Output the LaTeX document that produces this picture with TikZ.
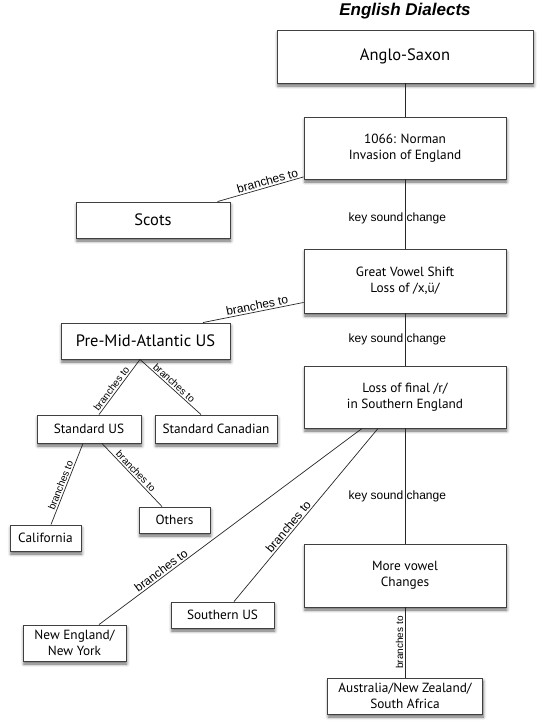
\documentclass[tikz,border=0pt]{standalone}
\usepackage{fontspec}
\setmainfont{PT Sans}
\newfontfamily\lblfont{Liberation Sans}
\usetikzlibrary{shadows.blur}
\def\fsbig{\fontsize{16.5}{19}\selectfont}
\def\fsmid{\fontsize{13.3}{16}\selectfont}
\def\fstitle{\lblfont\bfseries\itshape\fontsize{17}{20}\selectfont}

\tikzset{
	box/.style={draw=black!75, line width=0.9pt, fill=white, align=center, inner sep=2pt,
		blur shadow={shadow xshift=0.8pt, shadow yshift=-3pt, shadow blur radius=3pt, shadow opacity=60}},
	lbl/.style={font=\lblfont\fontsize{12}{14}\selectfont, inner sep=1.5pt},
	smalllbl/.style={font=\lblfont\fontsize{10}{12}\selectfont, inner sep=1.5pt},
	link/.style={draw=black!85, line width=0.7pt}
}

\begin{document}
\begin{tikzpicture}[x=1pt, y=-1pt]
	\useasboundingbox (0,0) rectangle (541,728);
	\node[anchor=base] (title) at (405,15) {\fstitle English Dialects};

	\node[box, minimum width=256pt, minimum height=53pt, font=\fsbig] (anglo)  at (405, 56.5)   {Anglo-Saxon};
	\node[box, minimum width=202pt, minimum height=62pt, font=\fsmid] (norman) at (405, 148)    {1066: Norman\\Invasion of England};
	\node[box, minimum width=154pt, minimum height=36pt, font=\fsbig] (scots)  at (153, 220)    {Scots};
	\node[box, minimum width=202pt, minimum height=64pt, font=\fsmid] (gvs)    at (405, 281)    {Great Vowel Shift\\Loss of /x,ü/};
	\node[box, minimum width=169pt, minimum height=36pt, font=\fsbig] (pma)    at (145.5, 341)  {Pre-Mid-Atlantic US};
	\node[box, minimum width=202pt, minimum height=62pt, font=\fsmid] (lossr)  at (405, 397)    {Loss of final /r/\\in Southern England};
	\node[box, minimum width=104pt, minimum height=28pt, font=\fsmid] (stdus)  at (89, 429)     {Standard US};
	\node[box, minimum width=122pt, minimum height=28pt, font=\fsmid] (canada) at (216, 429)    {Standard Canadian};
	\node[box, minimum width=71pt,  minimum height=26pt, font=\fsmid] (calif)  at (45.5, 538)   {California};
	\node[box, minimum width=71pt,  minimum height=26pt, font=\fsmid] (others) at (174.5, 520)  {Others};
	\node[box, minimum width=202pt, minimum height=63pt, font=\fsmid] (vowel)  at (405, 575.5)  {More vowel\\Changes};
	\node[box, minimum width=103pt, minimum height=36pt, font=\fsmid] (neweng) at (74.5, 643)   {New England/\\New York};
	\node[box, minimum width=103pt, minimum height=26pt, font=\fsmid] (south)  at (222.5, 615)  {Southern US};
	\node[box, minimum width=155pt, minimum height=36pt, font=\fsmid] (austr)  at (405, 696)    {Australia/New Zealand/\\South Africa};

	% main line
	\draw[link] (anglo) -- (norman);
	\draw[link] (norman) -- node[lbl, pos=0.57, xshift=-7.7pt] {key sound change} (gvs);
	\draw[link] (gvs)    -- node[lbl, pos=0.5,  xshift=-7.7pt] {key sound change} (lossr);
	\draw[link] (lossr)  -- node[lbl, pos=0.59, xshift=-7.7pt] {key sound change} (vowel);
	\draw[link] (austr)  -- node[smalllbl, sloped, above] {branches to} (vowel);

	% branches
	\draw[link] (norman) -- node[lbl, sloped, above, pos=0.4] {branches to} (scots);
	\draw[link] ([yshift=11pt]gvs.south west) -- node[lbl, sloped, above, pos=0.45] {branches to} ([xshift=57.5pt]pma.north);
	\draw[link] ([xshift=-5.5pt]pma.south) -- node[smalllbl, sloped, above, pos=0.59] {branches to} ([xshift=10pt]stdus.north);
	\draw[link] ([xshift=-5.5pt]pma.south) -- node[smalllbl, sloped, above, pos=0.5] {branches to} ([xshift=-15pt]canada.north);
	\draw[link] ([xshift=-6pt]stdus.south) -- node[smalllbl, sloped, above, pos=0.54] {branches to} ([xshift=5.5pt]calif.north);
	\draw[link] ([xshift=13pt]stdus.south) -- node[smalllbl, sloped, above, pos=0.5] {branches to} ([xshift=-12.5pt]others.north);
	\draw[link] ([xshift=-43pt]lossr.south) -- node[lbl, sloped, above, pos=0.75] {branches to} ([xshift=24.5pt]neweng.north);
	\draw[link] ([xshift=-27pt]lossr.south) -- node[lbl, sloped, above, pos=0.59] {branches to} ([xshift=11.5pt]south.north);
\end{tikzpicture}
\end{document}
